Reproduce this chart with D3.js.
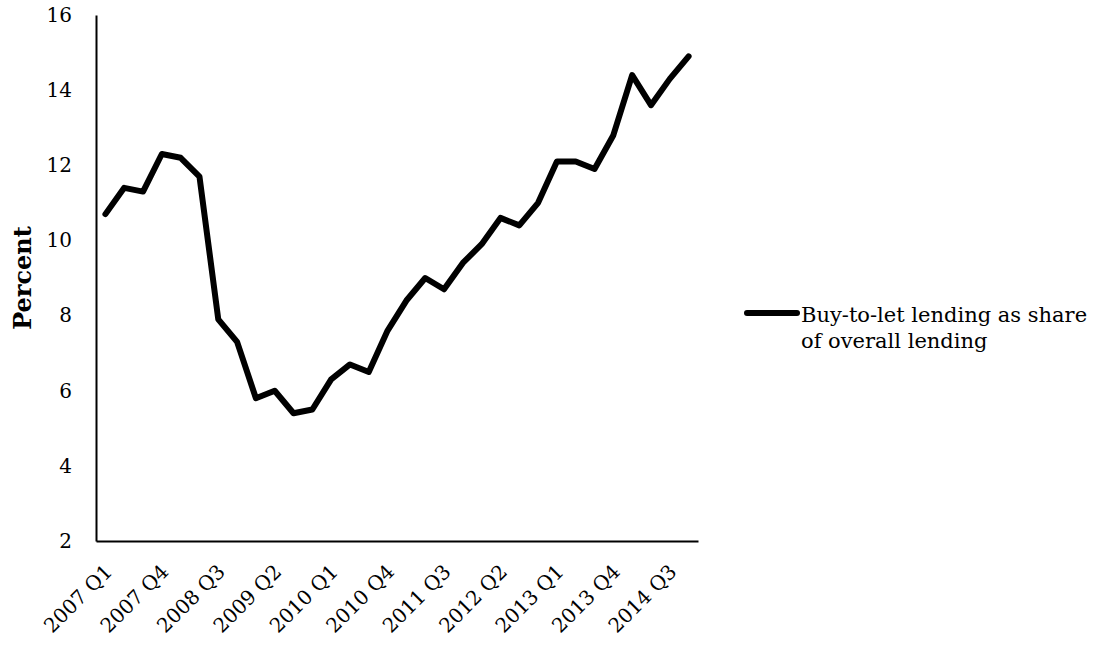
<!DOCTYPE html>
<html>
<head>
<meta charset="utf-8">
<script src="https://d3js.org/d3.v7.min.js"></script>
<style>
  body { margin: 0; background: #fff; }
  text { font-family: "DejaVu Serif", serif; fill: #000; }
  .y-axis .tick text { font-size: 20px; }
  .x-axis .tick text { font-size: 20px; }
  .title { font-size: 24px; font-weight: bold; }
  .legend { font-size: 21px; }
</style>
</head>
<body>
<div id="chart"></div>
<script>
// quarters 2007 Q1 .. 2014 Q4
var years = [2007, 2008, 2009, 2010, 2011, 2012, 2013, 2014];
var quarters = [];
years.forEach(function(y) { [1, 2, 3, 4].forEach(function(q) { quarters.push(y + " Q" + q); }); });

// buy-to-let lending as share of overall lending, percent
var btlShare = [10.7, 11.4, 11.3, 12.3, 12.2, 11.7, 7.9, 7.3,
                5.8, 6.0, 5.4, 5.5, 6.3, 6.7, 6.5, 7.6,
                8.4, 9.0, 8.7, 9.4, 9.9, 10.6, 10.4, 11.0,
                12.1, 12.1, 11.9, 12.8, 14.4, 13.6, 14.3, 14.9];
var yTicks = [2, 4, 6, 8, 10, 12, 14, 16];
var seriesName = ["Buy-to-let lending as share", "of overall lending"];

var data = quarters.map(function(q, i) { return {q: q, v: btlShare[i]}; });

var margin = {top: 15, left: 96},
    width = 602, height = 526;

var svg = d3.select("#chart").append("svg")
    .attr("width", 1095).attr("height", 646);
var g = svg.append("g").attr("transform", "translate(" + margin.left + "," + margin.top + ")");

var x = d3.scaleBand().domain(quarters).range([0, width]);
var y = d3.scaleLinear().domain([2, 16]).range([height, 0]);

// y axis
var yAxis = g.append("g").attr("class", "y-axis")
    .call(d3.axisLeft(y).tickValues(yTicks).tickSize(0).tickPadding(24));
yAxis.select(".domain").attr("stroke-width", 2);

// x axis
var xAxis = g.append("g").attr("class", "x-axis")
    .attr("transform", "translate(0," + height + ")")
    .call(d3.axisBottom(x).tickValues(quarters.filter(function(d, i) { return i % 3 === 0; })).tickSize(0));
xAxis.select(".domain").attr("stroke-width", 2);
xAxis.selectAll(".tick text")
    .attr("text-anchor", "end")
    .attr("dy", null)
    .attr("y", 0)
    .attr("transform", "translate(8,32) rotate(-45)");

// line
var line = d3.line()
    .x(function(d) { return x(d.q) + x.bandwidth() / 2; })
    .y(function(d) { return y(d.v); });

g.append("path")
    .datum(data)
    .attr("fill", "none")
    .attr("stroke", "#000")
    .attr("stroke-width", 6)
    .attr("stroke-linejoin", "round")
    .attr("stroke-linecap", "round")
    .attr("d", line);

// y title
svg.append("text")
    .attr("class", "title")
    .attr("text-anchor", "middle")
    .attr("transform", "translate(31,278) rotate(-90)")
    .text("Percent");

// legend
var lg = svg.append("g").attr("transform", "translate(745,313)");
lg.append("line")
    .attr("x1", 2).attr("x2", 52).attr("y1", 0).attr("y2", 0)
    .attr("stroke", "#000").attr("stroke-width", 6).attr("stroke-linecap", "round");
lg.selectAll("text.legend")
    .data(seriesName)
    .enter().append("text")
    .attr("class", "legend")
    .attr("x", 56)
    .attr("y", function(d, i) { return 9 + i * 26; })
    .text(function(d) { return d; });
</script>
</body>
</html>
